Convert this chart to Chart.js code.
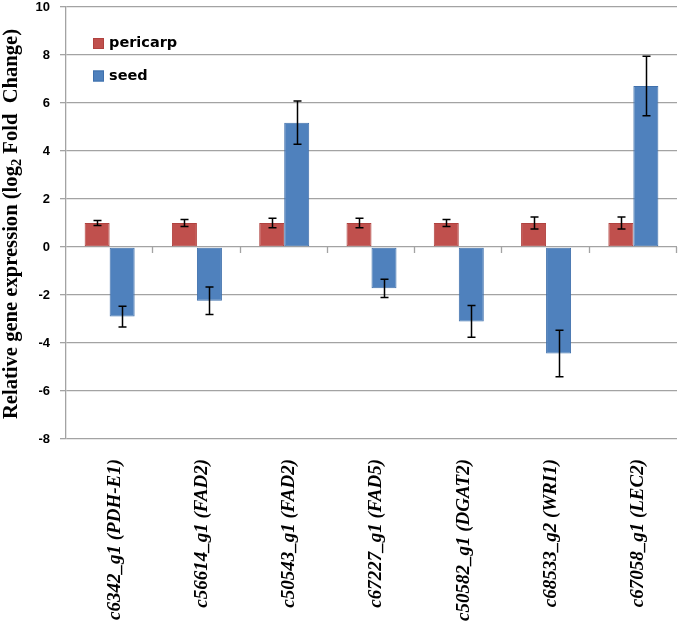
<!DOCTYPE html>
<html><head><meta charset="utf-8">
<script src="https://cdn.jsdelivr.net/npm/chart.js@4.4.1/dist/chart.umd.min.js"></script>
<style>html,body{margin:0;padding:0;background:#fff;} #wrap{position:relative;width:680px;height:625px;}</style>
</head><body><div id="wrap"><canvas id="c"></canvas></div>
<script>
const categories = ['c6342_g1 (PDH-E1)', 'c56614_g1 (FAD2)', 'c50543_g1 (FAD2)', 'c67227_g1 (FAD5)', 'c50582_g1 (DGAT2)', 'c68533_g2 (WRI1)', 'c67058_g1 (LEC2)'];
const seriesNames = ['pericarp', 'seed'];
const pericarp = [1, 1, 1, 1, 1, 1, 1];
const pericarpErr = [0.1, 0.15, 0.2, 0.2, 0.15, 0.25, 0.25];
const seed = [-2.9, -2.24, 5.18, -1.72, -3.1, -4.44, 6.71];
const seedErr = [0.43, 0.57, 0.9, 0.38, 0.66, 0.97, 1.24];
const yMin = -8, yMax = 10, yStep = 2;
const yTitleParts = ['Relative gene expression (log', '2', ' Fold  Change)'];

const GRID = '#a3a3a3';

const errorBars = {
  id: 'errorBars',
  afterDatasetsDraw(chart) {
    const ctx = chart.ctx, y = chart.scales.y;
    ctx.save();
    ctx.strokeStyle = '#000';
    ctx.lineWidth = 1.5;
    chart.data.datasets.forEach((ds, i) => {
      chart.getDatasetMeta(i).data.forEach((bar, j) => {
        const v = ds.data[j], e = ds.errors[j];
        const yt = y.getPixelForValue(v + e), yb = y.getPixelForValue(v - e);
        const x = Math.round(bar.x) + 0.5;
        ctx.beginPath();
        ctx.moveTo(x, yt); ctx.lineTo(x, yb);
        ctx.moveTo(x - 4, yt); ctx.lineTo(x + 4, yt);
        ctx.moveTo(x - 4, yb); ctx.lineTo(x + 4, yb);
        ctx.stroke();
      });
    });
    ctx.restore();
  }
};

const zeroTicks = {
  id: 'zeroTicks',
  afterDraw(chart) {
    const ctx = chart.ctx, xs = chart.scales.x, y = chart.scales.y;
    const y0 = y.getPixelForValue(0);
    const n = chart.data.labels.length;
    const w = (xs.right - xs.left) / n;
    ctx.save();
    ctx.strokeStyle = GRID;
    ctx.lineWidth = 1.3;
    for (let i = 1; i <= n; i++) {
      const x = Math.round(xs.left + i * w) - 0.5;
      ctx.beginPath(); ctx.moveTo(x, y0); ctx.lineTo(x, y0 + 6); ctx.stroke();
    }
    ctx.restore();
  }
};

const innerLegend = {
  id: 'innerLegend',
  afterDraw(chart) {
    const ctx = chart.ctx, a = chart.chartArea;
    ctx.save();
    ctx.font = 'bold 14.5px "DejaVu Sans"';
    ctx.textBaseline = 'middle';
    chart.data.datasets.forEach((ds, i) => {
      const cy = a.top + 36.5 + i * 32.5;
      const x0 = a.left + 27;
      ctx.fillStyle = ds.backgroundColor;
      ctx.fillRect(x0, cy - 5.5, 11, 11);
      ctx.strokeStyle = ds.borderColor;
      ctx.lineWidth = 1;
      ctx.strokeRect(x0 + 0.5, cy - 5, 10, 10);
      ctx.fillStyle = '#000';
      ctx.fillText(ds.label, x0 + 16, cy);
    });
    ctx.restore();
  }
};

const yTitle = {
  id: 'yTitle',
  afterDraw(chart) {
    const ctx = chart.ctx, a = chart.chartArea;
    const big = 'bold 20.6px "Liberation Serif"', small = 'bold 14.5px "Liberation Serif"';
    ctx.save();
    ctx.translate(17, (a.top + a.bottom) / 2 + 1);
    ctx.rotate(-Math.PI / 2);
    ctx.fillStyle = '#000';
    ctx.textBaseline = 'alphabetic';
    ctx.font = big; const w0 = ctx.measureText(yTitleParts[0]).width;
    ctx.font = small; const w1 = ctx.measureText(yTitleParts[1]).width;
    ctx.font = big; const w2 = ctx.measureText(yTitleParts[2]).width;
    let x = -(w0 + w1 + w2) / 2;
    ctx.font = big; ctx.fillText(yTitleParts[0], x, 0); x += w0;
    ctx.font = small; ctx.fillText(yTitleParts[1], x, 4); x += w1;
    ctx.font = big; ctx.fillText(yTitleParts[2], x, 0);
    ctx.restore();
  }
};

new Chart(document.getElementById('c'), {
  type: 'bar',
  data: {
    labels: categories,
    datasets: [
      { label: seriesNames[0], data: pericarp, errors: pericarpErr, backgroundColor: '#C0504D', borderColor: '#B0423F', borderWidth: 1, borderSkipped: false },
      { label: seriesNames[1], data: seed, errors: seedErr, backgroundColor: '#4F81BD', borderColor: '#3F70AC', borderWidth: 1, borderSkipped: false }
    ]
  },
  options: {
    responsive: true,
    maintainAspectRatio: false,
    animation: false,
    layout: { padding: { top: 7, right: 3, left: 0, bottom: 0 } },
    plugins: { legend: { display: false }, tooltip: { enabled: false } },
    datasets: { bar: { categoryPercentage: 0.573, barPercentage: 1.0 } },
    scales: {
      x: {
        grid: { display: false, drawTicks: false },
        border: { display: false },
        ticks: {
          minRotation: 90, maxRotation: 90, padding: 20, labelOffset: 5, color: '#000', autoSkip: false,
          font: { family: 'Liberation Serif', size: 19, style: 'italic', weight: 'bold' }
        },
        afterFit(s) { s.height = 186; s.paddingTop = 0; s.paddingBottom = 0; }
      },
      y: {
        min: yMin, max: yMax,
        grid: { color: GRID, lineWidth: 1.3, tickLength: 6 },
        border: { display: true, color: GRID, width: 1.3 },
        ticks: { stepSize: yStep, padding: 10, color: '#000', font: { family: 'Liberation Sans', size: 13, weight: 'bold' } },
        afterFit(s) { s.width = 66; s.paddingTop = 0; s.paddingBottom = 0; }
      }
    }
  },
  plugins: [errorBars, zeroTicks, innerLegend, yTitle]
});
</script></body></html>
